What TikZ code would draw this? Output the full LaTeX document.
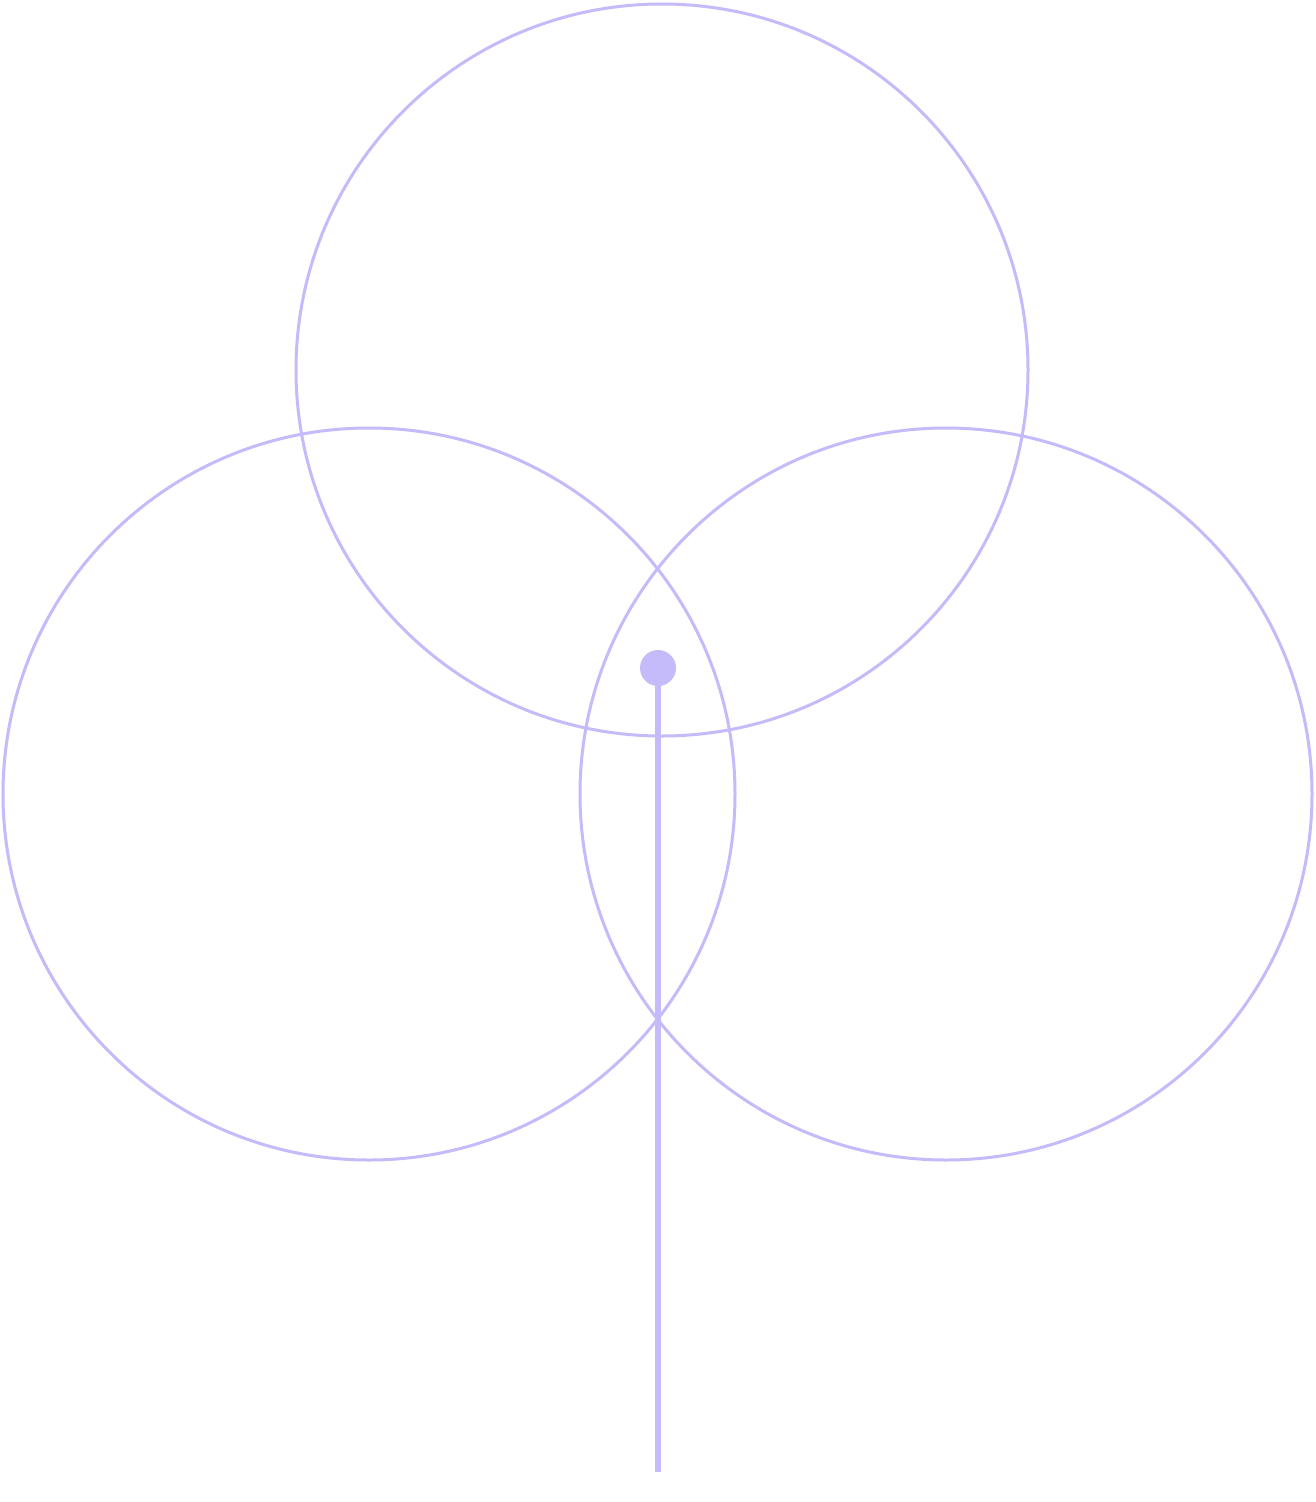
\documentclass[tikz,border=0pt]{standalone}
\usepackage{fontspec}
\setmainfont{Liberation Serif}
\definecolor{lav}{RGB}{197,186,250}
\begin{document}
\begin{tikzpicture}[x=1pt,y=-1pt,
  ring/.style={circle,draw=lav,line width=3pt,minimum size=732pt,inner sep=0pt},
  lbl/.style={text=white,font=\fontsize{128}{128}\selectfont,anchor=base,inner sep=0pt}]
\useasboundingbox (0,0) rectangle (1316,1502);
\fill[white] (0,0) rectangle (1316,1502);
\node[ring] (top) at (662,370) {};
\node[ring] (left) at (369,794) {};
\node[ring] (right) at (946,794) {};
\node[lbl,xscale=0.83] (t1) at (666,338) {Atitude};
\node[lbl,xscale=0.72] (t2) at (282,900) {Respiração};
\node[lbl,xscale=0.73] (t3) at (1008,900) {Ressonância};
\node[circle,fill=lav,minimum size=36pt,inner sep=0pt] (dot) at (658,668) {};
\coordinate (end) at (658,1472);
\draw[lav,line width=6pt] (dot.center) -- (end);
\end{tikzpicture}
\end{document}
